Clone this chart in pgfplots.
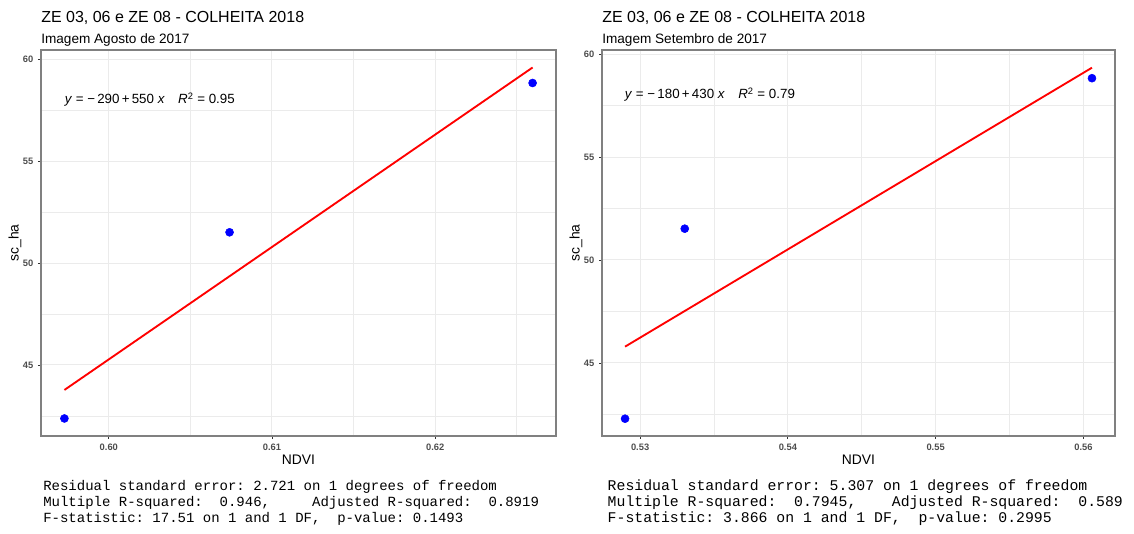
\documentclass[border=0pt]{standalone}
\usepackage{fontspec}
\setmainfont{Liberation Sans}
\setmonofont{Liberation Mono}
\usepackage{pgfplots}
\pgfplotsset{compat=1.18}

\definecolor{gridc}{HTML}{EBEBEB}
\definecolor{tickc}{HTML}{333333}
\definecolor{labc}{HTML}{4D4D4D}

% data
\pgfplotstableread{
x y
0.59728 42.37
0.60740 51.51
0.62597 58.84
}\agosto
\pgfplotstableread{
x y
0.52898 42.29
0.53302 51.52
0.56058 58.83
}\setembro

\pgfplotsset{
  regpanel/.style={
    scale only axis, height=289.5pt,
    axis line style={draw=black!50, line width=0.8pt},
    tick pos=left,
    tick align=outside, major tick length=2.25pt, minor tick length=0pt,
    tick style={draw=tickc, line width=0.6pt},
    grid=both,
    major grid style={draw=gridc, line width=0.75pt},
    minor grid style={draw=gridc, line width=0.45pt},
    ticklabel style={font=\fontsize{7}{8}\selectfont\bfseries, text=labc},
    ytick={45,50,55,60}, yticklabels={45,50,55,60},
    minor ytick={42.5,47.5,52.5,57.5},
    xlabel={NDVI}, ylabel={sc\_ha},
    label style={font=\fontsize{10.4}{12}\selectfont},
    xlabel style={at={(axis description cs:0.5,-0.075)}, anchor=base},
    ylabel style={at={(axis description cs:-0.0505,0.5)}, anchor=center},
  },
  pts/.style={only marks, mark=*, mark size=3pt, color=blue},
  fit/.style={no marks, color=red, line width=1.4pt},
}

\begin{document}
\begin{tikzpicture}
\path[use as bounding box] (0,0) rectangle (850.5pt,400.5pt);

\begin{axis}[regpanel, at={(30.75pt,73.5pt)}, anchor=south west,
    width=386.25pt,
    xmin=0.595845, xmax=0.627405, ymin=41.51, ymax=60.46,
    xtick={0.60,0.61,0.62}, xticklabels={0.60,0.61,0.62},
    minor xtick={0.605,0.615,0.625}]
\addplot[fit] coordinates {(0.59728,43.77) (0.62597,59.60)};
\addplot[pts] table {\agosto};
\end{axis}

\begin{axis}[regpanel, at={(451.5pt,73.5pt)}, anchor=south west,
    width=384.75pt,
    xmin=0.52742, xmax=0.56214, ymin=41.45, ymax=60.20,
    xtick={0.53,0.54,0.55,0.56}, xticklabels={0.53,0.54,0.55,0.56},
    minor xtick={0.535,0.545,0.555}]
\addplot[fit] coordinates {(0.52898,45.79) (0.56058,59.34)};
\addplot[pts] table {\setembro};
\end{axis}

% titles
\node[anchor=base west, inner sep=0, font=\fontsize{12}{14}\selectfont] at (30.75pt,383.25pt) {ZE 03, 06 e ZE 08 - COLHEITA 2018};
\node[anchor=base west, inner sep=0, font=\fontsize{10.2}{12}\selectfont] at (30.75pt,367.9pt) {Imagem Agosto de 2017};
\node[anchor=base west, inner sep=0, font=\fontsize{12}{14}\selectfont] at (451.5pt,383.25pt) {ZE 03, 06 e ZE 08 - COLHEITA 2018};
\node[anchor=base west, inner sep=0, font=\fontsize{10.2}{12}\selectfont] at (451.5pt,367.9pt) {Imagem Setembro de 2017};

% equations
\node[anchor=base west, inner sep=0, font=\fontsize{10}{12}\selectfont] at (48.4pt,322.5pt)
  {\textit{y} = −\,290\,+\,550 \textit{x}\hspace{1em}\textit{R}\textsuperscript{2} = 0.95};
\node[anchor=base west, inner sep=0, font=\fontsize{10}{12}\selectfont] at (468.5pt,326.25pt)
  {\textit{y} = −\,180\,+\,430 \textit{x}\hspace{1em}\textit{R}\textsuperscript{2} = 0.79};

% summary lines
\begin{scope}[every node/.style={anchor=base west, inner sep=0, font=\fontsize{10.5}{12}\ttfamily}]
\node at (32.25pt,32.25pt) {Residual standard error: 2.721 on 1 degrees of freedom};
\node at (32.25pt,20.25pt) {Multiple R-squared:~~0.946,~~~~~Adjusted R-squared:~~0.8919};
\node at (32.25pt,8.25pt) {F-statistic: 17.51 on 1 and 1 DF,~~p-value: 0.1493};
\end{scope}
\begin{scope}[every node/.style={anchor=base west, inner sep=0, font=\fontsize{11.1}{13}\ttfamily}]
\node at (455.6pt,32.25pt) {Residual standard error: 5.307 on 1 degrees of freedom};
\node at (455.6pt,20.25pt) {Multiple R-squared:~~0.7945,~~~~Adjusted R-squared:~~0.589};
\node at (455.6pt,8.25pt) {F-statistic: 3.866 on 1 and 1 DF,~~p-value: 0.2995};
\end{scope}
\end{tikzpicture}
\end{document}
